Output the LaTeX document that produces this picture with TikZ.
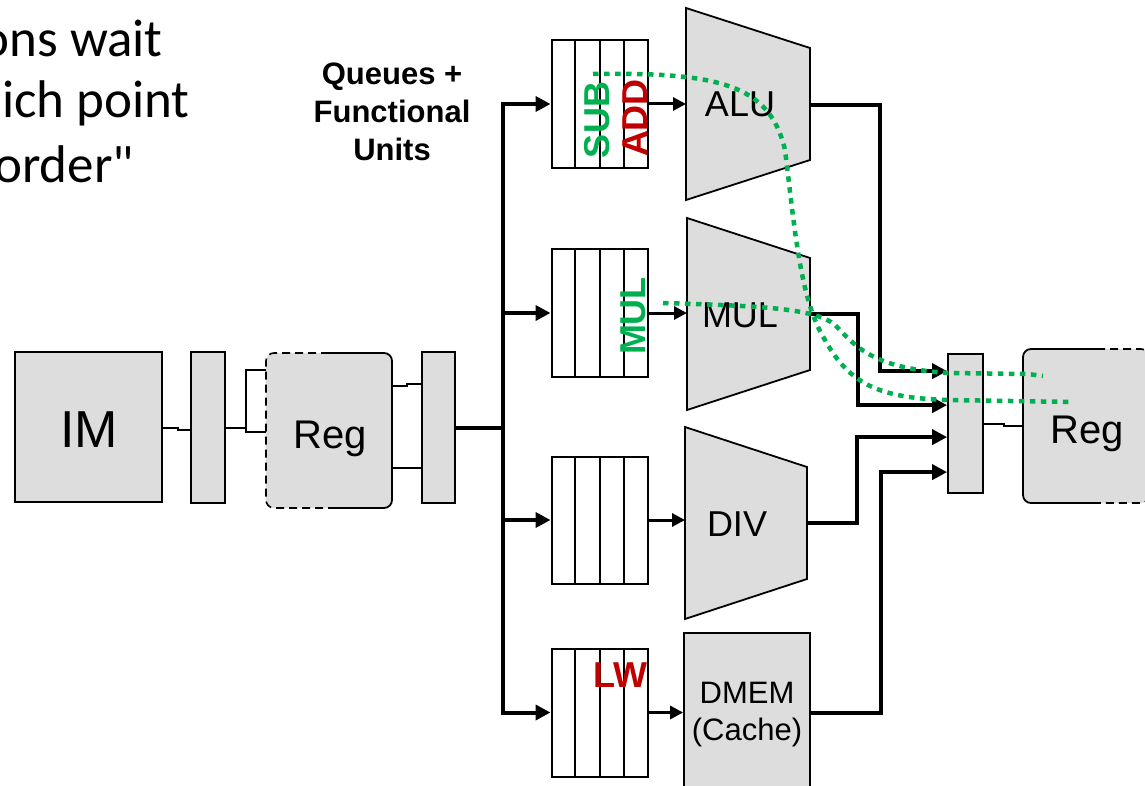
\documentclass[tikz,border=0pt]{standalone}
\usepackage{fontspec}
\setmainfont{Liberation Sans}
\newfontfamily\calfont{Carlito}[Ligatures=TeXOff]
\usetikzlibrary{arrows.meta,calc}
\definecolor{boxgray}{RGB}{221,221,221}
\definecolor{pgreen}{RGB}{0,176,80}
\definecolor{pred}{RGB}{192,0,0}
\begin{document}
\begin{tikzpicture}[x=1pt,y=-1pt,
  box/.style={draw=black,fill=boxgray,line width=1.8pt,inner sep=0pt},
  ghost/.style={inner sep=0pt,outer sep=0pt},
  thinline/.style={line width=2pt},
  busline/.style={line width=4pt},
  busarrow/.style={line width=4pt,-{Triangle[length=15pt,width=15pt]}},
  qarrow/.style={line width=3pt,-{Triangle[length=13pt,width=13pt]}},
  queue/.style={draw=black,line width=2pt,fill=white,minimum width=96pt,minimum height=128pt,inner sep=0pt},
  unitlbl/.style={anchor=base,inner sep=0pt,font=\fontsize{36}{36}\selectfont},
  tag/.style={font=\bfseries\fontsize{36}{36}\selectfont,inner sep=0pt},
  cal/.style={anchor=base east,inner sep=0pt,font=\calfont\fontsize{53}{53}\selectfont},
  ttl/.style={anchor=base,inner sep=0pt,font=\bfseries\fontsize{31}{31}\selectfont},
  gpath/.style={draw=pgreen,line width=4.5pt,dash pattern=on 5.5pt off 5.5pt},
  regdash/.style={line width=1.6pt,dash pattern=on 8pt off 5pt},
  regsolid/.style={line width=1.8pt}
]
\useasboundingbox (0,0) rectangle (1145,786);

% ---- top-left text (cropped)
\node[cal] (t1) at (163,57) {ons wait};
\node[cal] (t2) at (190,118) {ich point};
\node[cal] (t3) at (134,183) {order"};

% ---- title
\node[ttl] (ttl1) at (392,85) {Queues +};
\node[ttl] (ttl2) at (392,123) {Functional};
\node[ttl] (ttl3) at (392,161) {Units};

% ---- front end
\node[box,minimum width=147pt,minimum height=150pt] (im) at (88.5,427) {};
\node[anchor=base,inner sep=0pt,font=\fontsize{52}{52}\selectfont] (imt) at (89,447) {IM};
\node[box,minimum width=34pt,minimum height=151pt] (pr1) at (208,427.5) {};
\node[box,minimum width=33pt,minimum height=151pt] (pr2) at (438.5,427.5) {};

% left register file
\node[ghost,minimum width=126pt,minimum height=155pt] (rega) at (329,430.5) {};
\fill[boxgray,rounded corners=8pt] (rega.north west) rectangle (rega.south east);
\draw[regdash,rounded corners=8pt] (rega.north) -- (rega.north west) -- (rega.south west) -- (rega.south);
\draw[regsolid,rounded corners=8pt] (rega.north) -- (rega.north east) -- (rega.south east) -- (rega.south);
\node[anchor=base,inner sep=0pt,font=\fontsize{40}{40}\selectfont] (regat) at (330,448) {Reg};

% front-end wires
\draw[thinline] ([yshift=-1pt]im.east) -- ++(15,0) |- ([yshift=-2pt]pr1.west);
\coordinate (j1) at (246,432);
\draw[thinline] ([yshift=-0.5pt]pr1.east) -- ([yshift=-0.5pt]pr1.east -| j1);
\draw[thinline] ([yshift=60.5pt]rega.west) -| (j1) -- (j1 -| rega.west);
\draw[thinline] ([yshift=44.5pt]rega.east) -- ++(15,0) |- ([yshift=43.5pt]pr2.west);
\draw[thinline] ([yshift=-37.5pt]rega.east) -- ([yshift=-37.5pt]rega.east -| pr2.west);

% ---- queues
\node[queue] (q1) at (599.5,104) {};
\node[queue] (q2) at (599.5,313) {};
\node[queue,minimum height=127pt] (q3) at (599.5,520) {};
\node[queue] (q4) at (599.5,712.5) {};
\foreach \q in {q1,q2,q3,q4}{
  \foreach \f in {0.25,0.5,0.75}{
    \draw[line width=2pt] ($(\q.north west)!\f!(\q.north east)$) -- ($(\q.south west)!\f!(\q.south east)$);
  }
}

% ---- bus
\coordinate (bj) at (503,427.5);
\draw[busline] (pr2.east) -- (bj);
\draw[busarrow] (bj) |- (q1.west);
\draw[busarrow] (bj) |- (q2.west);
\draw[busarrow] (bj) |- (q3.west);
\draw[busarrow] (bj) |- (q4.west);

% ---- functional units
\node[ghost,minimum width=124pt,minimum height=192pt] (alu) at (748,104) {};
\node[ghost,minimum width=123pt,minimum height=192pt] (mul) at (748.5,314) {};
\node[ghost,minimum width=122pt,minimum height=192pt] (div) at (746,523) {};
\foreach \u in {alu,mul,div}{
  \draw[box] (\u.north west) -- ($(\u.north east)+(0,40)$) -- ($(\u.south east)+(0,-40)$) -- (\u.south west) -- cycle;
}
\node[box,minimum width=126pt,minimum height=207pt] (dmem) at (747,736.5) {};
\node[unitlbl] (alut) at (740,117) {ALU};
\node[unitlbl] (mult) at (740,327) {MUL};
\node[unitlbl] (divt) at (737,536) {DIV};
\node[unitlbl,font=\fontsize{31}{31}\selectfont] (dmemt1) at (747,703) {DMEM};
\node[unitlbl,font=\fontsize{31}{31}\selectfont] (dmemt2) at (747,740) {(Cache)};

% queue -> unit
\draw[qarrow] (q1.east) -- (alu.west);
\draw[qarrow] (q2.east) -- (q2.east -| mul.west);
\draw[qarrow] (q3.east) -- (q3.east -| div.west);
\draw[qarrow] (q4.east) -- (q4.east -| dmem.west);

% ---- write-back pipeline register
\node[box,minimum width=35pt,minimum height=139pt] (pr3) at (965.5,423.5) {};
\coordinate (p3a) at ($(pr3.north west)+(0,18)$);
\coordinate (p3b) at ($(pr3.north west)+(0,52)$);
\coordinate (p3c) at ($(pr3.north west)+(0,84)$);
\coordinate (p3d) at ($(pr3.north west)+(0,119)$);
\draw[busarrow] ([yshift=-1pt]alu.east) -- ++(70,0) |- (p3a);
\draw[busarrow] (mul.east) -- ++(48,0) |- (p3b);
\draw[busarrow] (div.east) -- ++(50,0) |- (p3c);
\draw[busarrow] (q4.east -| dmem.east) -- ++(70,0) |- (p3d);

% right register file
\node[ghost,minimum width=126pt,minimum height=154pt] (regb) at (1086,426) {};
\fill[boxgray,rounded corners=8pt] (regb.north west) rectangle (regb.south east);
\draw[regsolid,rounded corners=8pt] ([xshift=11pt]regb.north) -- (regb.north west) -- (regb.south west) -- ([xshift=7pt]regb.south);
\draw[regdash,rounded corners=8pt] ([xshift=11pt]regb.north) -- (regb.north east) -- (regb.south east) -- ([xshift=7pt]regb.south);
\node[anchor=base,inner sep=0pt,font=\fontsize{40}{40}\selectfont] (regbt) at (1087,443) {Reg};
\draw[thinline] (pr3.east) -- ++(20,0) |- (regb.west);

% ---- instruction tags
\node[tag,rotate=90,text=pgreen] (sub) at (597,120) {SUB};
\node[tag,rotate=90,text=pred] (add) at (635,118) {ADD};
\node[tag,rotate=90,text=pgreen] (mulq) at (633,316) {MUL};
\node[tag,anchor=base,text=pred] (lw) at (620,687) {LW};

% ---- green dotted paths
\coordinate (s1) at (593,74);
\coordinate (s2) at (1073,402);
\coordinate (m1) at (663,303);
\coordinate (m2) at (1043,376);
\draw[gpath] (s1) .. controls (720,72) and (770,85) .. (785,150)
  .. controls (795,230) and (800,300) .. (825,340)
  .. controls (850,385) and (880,398) .. (948,400) -- (s2);
\draw[gpath] (m1) .. controls (760,306) and (815,308) .. (835,325)
  .. controls (855,345) and (870,368) .. (948,373) -- (1028,374) -- (m2);
\end{tikzpicture}
\end{document}
